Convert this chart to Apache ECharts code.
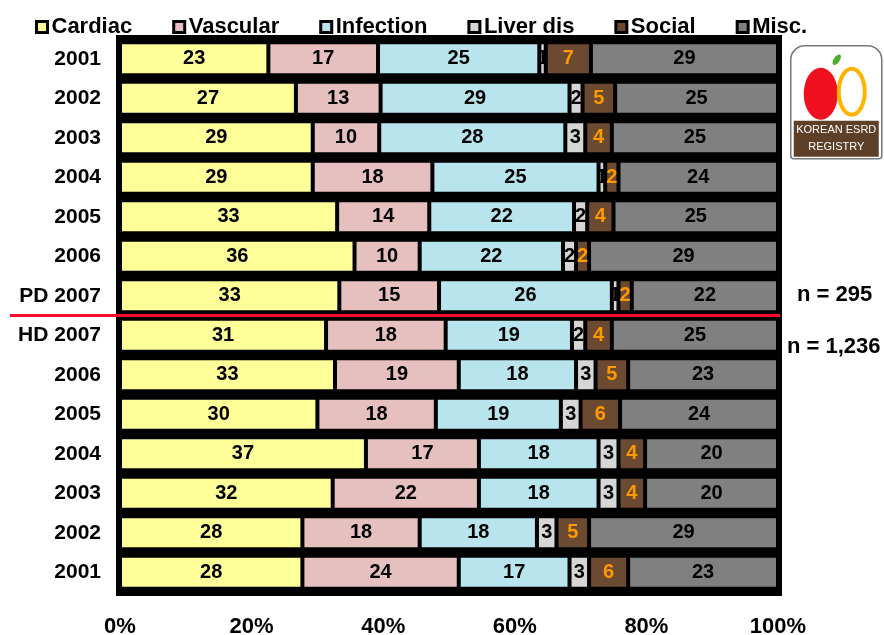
<!DOCTYPE html>
<html>
<head>
<meta charset="utf-8">
<script src="https://cdn.jsdelivr.net/npm/echarts@6/dist/echarts.min.js"></script>
<style>
  html, body { margin: 0; padding: 0; background: #fff; }
  #chart { width: 884px; height: 635px; }
</style>
</head>
<body>
<div id="chart"></div>
<script>
// rows top to bottom: PD 2001..2007 then HD 2007..2001
var rowLabels = ['2001', '2002', '2003', '2004', '2005', '2006', 'PD 2007',
                 'HD 2007', '2006', '2005', '2004', '2003', '2002', '2001'];
var causeNames = ['Cardiac', 'Vascular', 'Infection', 'Liver dis', 'Social', 'Misc.'];
var cardiac   = [23, 27, 29, 29, 33, 36, 33, 31, 33, 30, 37, 32, 28, 28];
var vascular  = [17, 13, 10, 18, 14, 10, 15, 18, 19, 18, 17, 22, 18, 24];
var infection = [25, 29, 28, 25, 22, 22, 26, 19, 18, 19, 18, 18, 18, 17];
var liver     = [1, 2, 3, 1, 2, 2, 1, 2, 3, 3, 3, 3, 3, 3];
var social    = [7, 5, 4, 2, 4, 2, 2, 4, 5, 6, 4, 4, 5, 6];
var misc      = [29, 25, 25, 24, 25, 29, 22, 25, 23, 24, 20, 20, 29, 23];
var xTicks = [0, 20, 40, 60, 80, 100];
var nPD = 'n = 295';
var nHD = 'n = 1,236';

var colors = ['#ffff99', '#e6bfbf', '#b8e4ee', '#d6d6d6', '#6b4a31', '#808080'];
var allSeries = [cardiac, vascular, infection, liver, social, misc];

// printed numbers are rounded, so scale each row to 100%
var totals = rowLabels.map(function (r, i) {
  var s = 0;
  allSeries.forEach(function (arr) { s += arr[i]; });
  return s;
});

var font = 'Liberation Sans, Arial, sans-serif';

var chart = echarts.init(document.getElementById('chart'));

var series = allSeries.map(function (arr, k) {
  return {
    name: causeNames[k],
    type: 'bar',
    stack: 'all',
    barWidth: 33,
    data: arr.map(function (v, i) { return v / totals[i] * 100; }),
    itemStyle: { color: colors[k], borderColor: '#000', borderWidth: 2 },
    label: {
      show: true,
      position: 'inside',
      fontFamily: font,
      fontWeight: 'bold',
      fontSize: 20,
      color: k === 4 ? '#ff9900' : '#000',
      formatter: function (p) { return String(arr[p.dataIndex]); }
    },
    emphasis: { disabled: true }
  };
});

chart.setOption({
  animation: false,
  backgroundColor: '#fff',
  legend: {
    left: 30,
    top: 11,
    itemWidth: 11,
    itemHeight: 11,
    itemGap: 40,
    itemStyle: { borderColor: '#000', borderWidth: 3 },
    icon: 'rect',
    textStyle: { fontFamily: font, fontWeight: 'bold', fontSize: 22, color: '#000', padding: [0, 0, 0, -1] },
    data: causeNames
  },
  grid: {
    left: 120,
    right: 106,
    top: 39,
    bottom: 43,
    outerBoundsMode: 'none',
    show: true,
    backgroundColor: '#000',
    borderColor: '#000',
    borderWidth: 8
  },
  xAxis: {
    type: 'value',
    min: xTicks[0],
    max: xTicks[xTicks.length - 1],
    interval: 20,
    z: 5,
    axisLine: { show: false },
    axisTick: { show: true, inside: true, length: 4, lineStyle: { color: '#000', width: 1 } },
    splitLine: { show: false },
    axisLabel: {
      margin: 24,
      fontFamily: font,
      fontWeight: 'bold',
      fontSize: 22,
      color: '#000',
      formatter: '{value}%'
    }
  },
  yAxis: {
    type: 'category',
    inverse: true,
    data: rowLabels,
    axisLine: { show: false },
    axisTick: { show: false },
    axisLabel: {
      margin: 19,
      fontFamily: font,
      fontWeight: 'bold',
      fontSize: 21,
      color: '#000'
    }
  },
  series: series
});

// divider between PD and HD rows, plus n labels and registry logo
var yPD = chart.convertToPixel({ yAxisIndex: 0 }, 6);
var yHD = chart.convertToPixel({ yAxisIndex: 0 }, 7);
var yMid = (yPD + yHD) / 2;

chart.setOption({
  graphic: [
    {
      type: 'line', z: 100,
      shape: { x1: 10, y1: yMid, x2: 780, y2: yMid },
      style: { stroke: '#ff0a2a', lineWidth: 3 }
    },
    {
      type: 'text', left: 797, top: yPD - 12, z: 100,
      style: { text: nPD, fontFamily: font, fontWeight: 'bold', fontSize: 22, fill: '#000' }
    },
    {
      type: 'text', left: 787, top: yHD + 1, z: 100,
      style: { text: nHD, fontFamily: font, fontWeight: 'bold', fontSize: 22, fill: '#000' }
    },
    {
      type: 'group', left: 790, top: 45, z: 100,
      children: [
        { type: 'rect', shape: { x: 0, y: 0, width: 91, height: 113, r: [14, 14, 3, 3] },
          style: { fill: '#fff', stroke: '#777', lineWidth: 1.5 } },
        { type: 'ellipse', shape: { cx: 30, cy: 48, rx: 17, ry: 26 }, style: { fill: '#f01020' } },
        { type: 'ellipse', shape: { cx: 61, cy: 46, rx: 13, ry: 23 },
          style: { fill: 'none', stroke: '#ffb400', lineWidth: 4 } },
        { type: 'ellipse', shape: { cx: 46, cy: 14, rx: 3, ry: 6 }, rotation: -0.6, originX: 46, originY: 14,
          style: { fill: '#4caf2a' } },
        { type: 'rect', shape: { x: 3, y: 75, width: 85, height: 36 }, style: { fill: '#5e3f28' } },
        { type: 'text', style: { x: 45.5, y: 84, text: 'KOREAN ESRD', align: 'center', verticalAlign: 'middle',
          fontFamily: font, fontSize: 11, fill: '#fff' } },
        { type: 'text', style: { x: 45.5, y: 101, text: 'REGISTRY', align: 'center', verticalAlign: 'middle',
          fontFamily: font, fontSize: 11, fill: '#fff' } }
      ]
    }
  ]
});
</script>
</body>
</html>
